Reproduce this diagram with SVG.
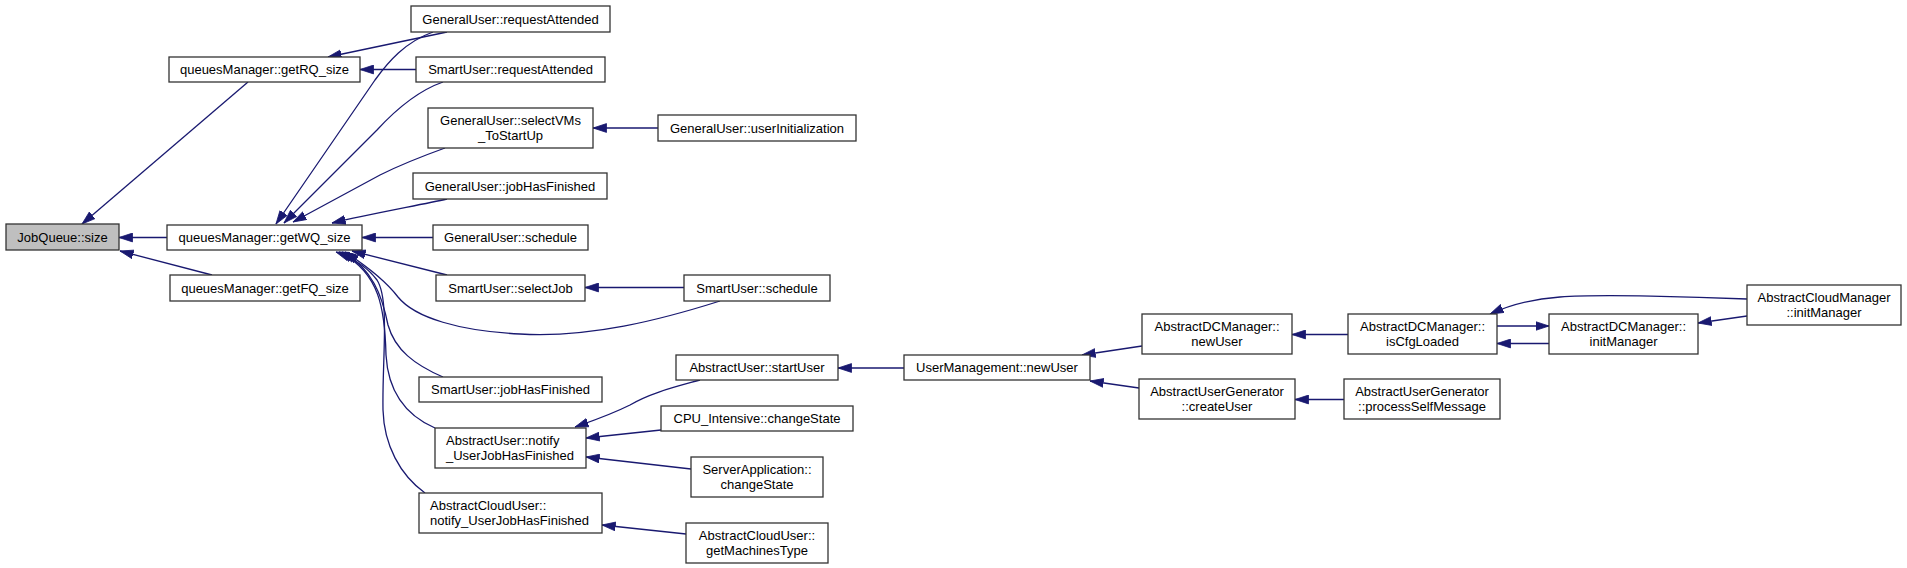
<svg xmlns="http://www.w3.org/2000/svg" width="1907" height="568" viewBox="0 0 1907 568">
<style>
.n rect{fill:#ffffff;stroke:#333333;stroke-width:1.3}
.n.hl rect{fill:#bfbfbf}
.n text{font-family:"Liberation Sans",Arial,sans-serif;font-size:13px;fill:#000000;text-anchor:middle}
.n text.l{text-anchor:start}
.e path{fill:none;stroke:#191970;stroke-width:1.3;marker-end:url(#ah)}
</style>
<defs>
<marker id="ah" markerUnits="userSpaceOnUse" markerWidth="14" markerHeight="10" viewBox="0 0 14 10" refX="13.5" refY="5" orient="auto">
<path d="M0,0.6 L13.5,5 L0,9.4 Z" fill="#191970" stroke="#191970" stroke-width="0.8"/>
</marker>
</defs>
<rect width="1907" height="568" fill="#ffffff"/>
<g class="e" id="edges">
<path d="M248,82 L82,224"/>
<path d="M167,237.5 L119,237.5"/>
<path d="M212,275 L120,251"/>
<path d="M447,32 L328,57"/>
<path d="M416,69.5 L360,69.5"/>
<path d="M433,32 C405,42 388,62 375,80 L276,224"/>
<path d="M443,82 C420,90 400,105 377,130 L284,223"/>
<path d="M445,148 C420,157 400,165 380,175 L293,222"/>
<path d="M447,199 C420,205 370,214 332,223"/>
<path d="M433,237.5 L362,237.5"/>
<path d="M447,275 L352,251"/>
<path d="M720,301 C660,320 590,338 520,334 C460,331 415,318 398,297 C385,280 365,265 345,252"/>
<path d="M443,377 C415,365 395,350 388,325 C382,295 372,268 342,252"/>
<path d="M435,428 C405,415 388,390 386,355 C385,310 380,272 339,252"/>
<path d="M425,493 C400,475 384,445 383,410 C382,360 390,300 377,280 C366,265 350,257 336,252"/>
<path d="M658,128 L593,128"/>
<path d="M684,287.5 L585,287.5"/>
<path d="M700,380 C675,387 650,393 630,405 C610,415 595,420 575,427"/>
<path d="M661,430 L586,438"/>
<path d="M691,469 L586,457"/>
<path d="M686,534 L602,525"/>
<path d="M904,368 L838,368"/>
<path d="M1142,346 L1082,355"/>
<path d="M1139,388 L1090,381"/>
<path d="M1348,334.5 L1292,334.5"/>
<path d="M1344,399.5 L1295,399.5"/>
<path d="M1497,326 L1549,326"/>
<path d="M1549,343.5 L1497,343.5"/>
<path d="M1747,316 L1698,323"/>
<path d="M1747,299 C1700,297 1600,294 1560,297 C1530,299 1510,305 1490,314"/>
</g>
<g class="n hl" id="n_jobqueue_size"><rect x="6" y="224" width="113" height="26"/><text x="62.5" y="241.5">JobQueue::size</text></g>
<g class="n" id="n_getRQ"><rect x="169" y="57" width="191" height="25"/><text x="264.5" y="74">queuesManager::getRQ_size</text></g>
<g class="n" id="n_getWQ"><rect x="167" y="225" width="195" height="25"/><text x="264.5" y="242">queuesManager::getWQ_size</text></g>
<g class="n" id="n_getFQ"><rect x="170" y="275" width="190" height="26"/><text x="265" y="292.5">queuesManager::getFQ_size</text></g>
<g class="n" id="n_gu_reqatt"><rect x="411" y="6" width="199" height="26"/><text x="510.5" y="23.5">GeneralUser::requestAttended</text></g>
<g class="n" id="n_su_reqatt"><rect x="416" y="57" width="189" height="25"/><text x="510.5" y="74">SmartUser::requestAttended</text></g>
<g class="n" id="n_gu_selectvms"><rect x="428" y="108" width="165" height="40"/><text x="510.5" y="124.5">GeneralUser::selectVMs</text><text x="510.5" y="139.5">_ToStartUp</text></g>
<g class="n" id="n_gu_jobfin"><rect x="413" y="173" width="194" height="26"/><text x="510" y="190.5">GeneralUser::jobHasFinished</text></g>
<g class="n" id="n_gu_schedule"><rect x="433" y="225" width="155" height="25"/><text x="510.5" y="242">GeneralUser::schedule</text></g>
<g class="n" id="n_su_selectjob"><rect x="436" y="275" width="149" height="26"/><text x="510.5" y="292.5">SmartUser::selectJob</text></g>
<g class="n" id="n_su_jobfin"><rect x="419" y="377" width="183" height="25"/><text x="510.5" y="394">SmartUser::jobHasFinished</text></g>
<g class="n" id="n_au_notify"><rect x="435" y="428" width="151" height="40"/><text class="l" x="446" y="444.5">AbstractUser::notify</text><text class="l" x="446" y="459.5">_UserJobHasFinished</text></g>
<g class="n" id="n_acu_notify"><rect x="419" y="493" width="183" height="40"/><text class="l" x="430" y="509.5">AbstractCloudUser::</text><text class="l" x="430" y="524.5">notify_UserJobHasFinished</text></g>
<g class="n" id="n_gu_userinit"><rect x="658" y="115" width="198" height="26"/><text x="757" y="132.5">GeneralUser::userInitialization</text></g>
<g class="n" id="n_su_schedule"><rect x="684" y="275" width="146" height="26"/><text x="757" y="292.5">SmartUser::schedule</text></g>
<g class="n" id="n_au_startuser"><rect x="676" y="355" width="162" height="25"/><text x="757" y="372">AbstractUser::startUser</text></g>
<g class="n" id="n_cpu_changestate"><rect x="661" y="406" width="192" height="25"/><text x="757" y="423">CPU_Intensive::changeState</text></g>
<g class="n" id="n_sa_changestate"><rect x="691" y="457" width="132" height="40"/><text x="757" y="473.5">ServerApplication::</text><text x="757" y="488.5">changeState</text></g>
<g class="n" id="n_acu_getmachines"><rect x="686" y="523" width="142" height="40"/><text x="757" y="539.5">AbstractCloudUser::</text><text x="757" y="554.5">getMachinesType</text></g>
<g class="n" id="n_um_newuser"><rect x="904" y="355" width="186" height="25"/><text x="997" y="372">UserManagement::newUser</text></g>
<g class="n" id="n_dcm_newuser"><rect x="1142" y="314" width="150" height="40"/><text x="1217" y="330.5">AbstractDCManager::</text><text x="1217" y="345.5">newUser</text></g>
<g class="n" id="n_aug_createuser"><rect x="1139" y="379" width="156" height="40"/><text x="1217" y="395.5">AbstractUserGenerator</text><text x="1217" y="410.5">::createUser</text></g>
<g class="n" id="n_dcm_iscfg"><rect x="1348" y="314" width="149" height="40"/><text x="1422.5" y="330.5">AbstractDCManager::</text><text x="1422.5" y="345.5">isCfgLoaded</text></g>
<g class="n" id="n_aug_process"><rect x="1344" y="379" width="156" height="40"/><text x="1422" y="395.5">AbstractUserGenerator</text><text x="1422" y="410.5">::processSelfMessage</text></g>
<g class="n" id="n_dcm_initmgr"><rect x="1549" y="314" width="149" height="40"/><text x="1623.5" y="330.5">AbstractDCManager::</text><text x="1623.5" y="345.5">initManager</text></g>
<g class="n" id="n_acm_initmgr"><rect x="1747" y="285" width="154" height="40"/><text x="1824" y="301.5">AbstractCloudManager</text><text x="1824" y="316.5">::initManager</text></g>
</svg>
